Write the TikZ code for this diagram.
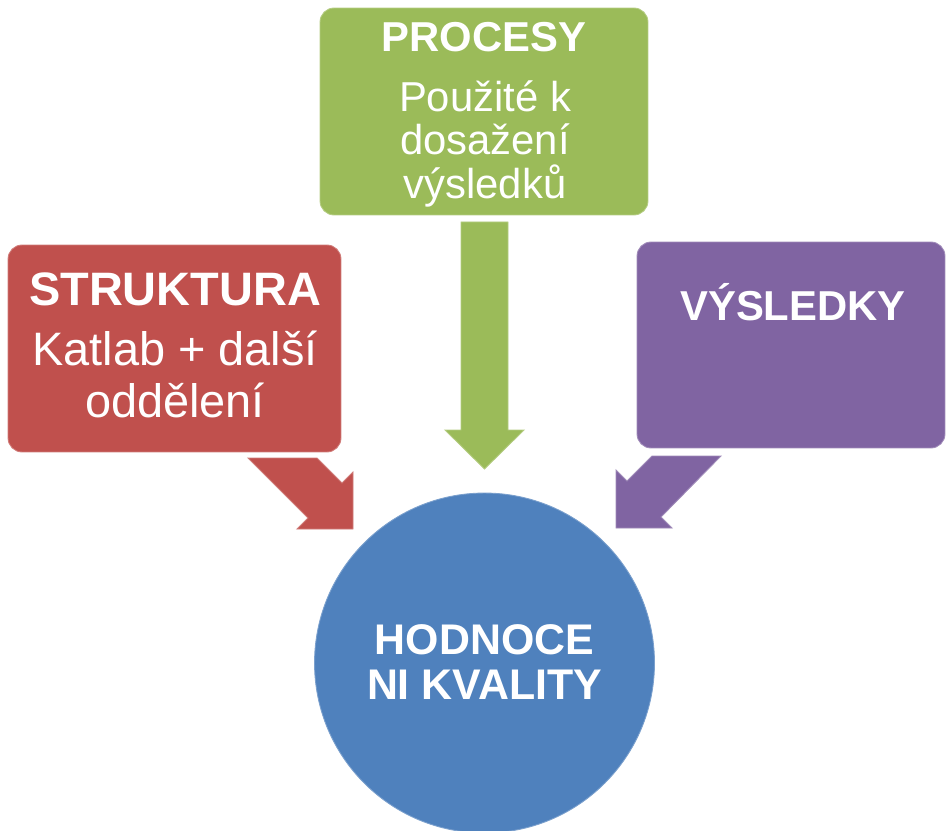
\documentclass[tikz,border=0pt]{standalone}
\usepackage{fontspec}
\setmainfont{Liberation Sans}
\usepackage{xcolor}
\usetikzlibrary{positioning}
\definecolor{strred}{HTML}{C0504D}
\definecolor{procgreen}{HTML}{9BBB59}
\definecolor{vyspurple}{HTML}{8064A2}
\definecolor{hodblue}{HTML}{4F81BD}
\tikzset{
  panel/.style={rounded corners=8pt,inner sep=0pt,line width=0.5pt},
  blockarrow/.style={line width=0.5pt,line join=miter},
  headbig/.style={text=white,anchor=base,font=\fontsize{26.7}{30}\bfseries\selectfont},
  bodybig/.style={text=white,anchor=base,font=\fontsize{26.7}{30}\selectfont},
  headmid/.style={text=white,anchor=base,font=\fontsize{23.8}{27}\bfseries\selectfont},
  bodymid/.style={text=white,anchor=base,font=\fontsize{23.8}{27}\selectfont},
}

\begin{document}
\begin{tikzpicture}[x=0.02cm,y=-0.02cm]
  \useasboundingbox (0,0) rectangle (946,831);
  % three boxes and the circle
  \node[panel,fill=strred,draw=strred!75!white,minimum width=6.66cm,
        minimum height=4.14cm] (struktura) at (174.5,348.5) {};
  \node[panel,fill=procgreen,draw=procgreen!75!white,minimum width=6.56cm,
        minimum height=4.14cm] (procesy) at (484,111.5) {};
  \node[panel,fill=vyspurple,draw=vyspurple!75!white,minimum width=6.16cm,
        minimum height=4.12cm] (vysledky) at (791,345) {};
  \node[circle,fill=hodblue,draw=hodblue!75!white,minimum size=6.8cm,
        inner sep=0pt,line width=0.5pt] (hodnoceni) at (484.5,663) {};
  % block arrows
  \fill[blockarrow,procgreen,draw=procgreen!75!white]
    (461,222)--(508,222)--(508,430)--(524,430)--(484.5,469)--(445,430)--(461,430)--cycle;
  \fill[blockarrow,strred,draw=strred!75!white]
    (248,458)--(317,458)--(342,483)--(353,472)--(353,529)--(297,529)--(308,518)--cycle;
  \fill[blockarrow,vyspurple,draw=vyspurple!75!white]
    (721,456)--(652,456)--(627,481)--(616,470)--(616,528)--(672,528)--(661,517)--cycle;
  % texts
  \node[headbig] (strukturaT) at (175,305) {STRUKTURA};
  \foreach \t/\y [count=\i] in {Katlab + další/365, oddělení/417}
    \node[bodybig] (strukturaB\i) at (175,\y) {\t};
  \node[headmid] (procesyT) at (484,52) {PROCESY};
  \foreach \t/\y [count=\i] in {Použité k/112, dosažení/155, výsledků/198}
    \node[bodymid] (procesyB\i) at (485,\y) {\t};
  \node[headmid] (vysledkyT) at (793,320) {VÝSLEDKY};
  \foreach \t/\y [count=\i] in {HODNOCE/654, NI KVALITY/699}
    \node[headmid,font=\fontsize{24.4}{27}\bfseries\selectfont] (hodnoceniT\i)
      at (484.5,\y) {\t};
\end{tikzpicture}
\end{document}
